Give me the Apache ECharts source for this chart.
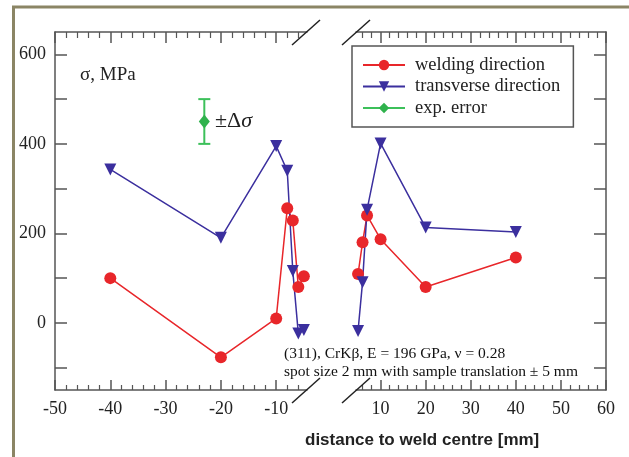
<!DOCTYPE html>
<html><head><meta charset="utf-8">
<script src="https://cdn.jsdelivr.net/npm/echarts@6/dist/echarts.min.js"></script>
<style>html,body{margin:0;padding:0;background:#fff}#c{width:629px;height:457px}</style>
</head><body><div id="c"></div>
<script>
// ---- data ----
const leftX = [-40, -20, -10, -8, -7, -6, -5];
const weldLeft = [100, -77, 10, 256, 229, 80, 104];
const transLeft = [343, 190, 395, 340, 116, -24, -16];
const rightX = [5, 6, 7, 10, 20, 40];
const weldRight = [109, 180, 240, 187, 80, 146];
const transRight = [-18, 91, 253, 401, 213, 203];
const errX = [-23];
const errY = [450];
const errD = [50];
const xLabelsLeft = [-50, -40, -30, -20, -10];
const xLabelsRight = [10, 20, 30, 40, 50, 60];
const yTicks = [-100, 0, 100, 200, 300, 400, 500, 600];
const yLabels = [0, 200, 400, 600];
const seriesNames = ['welding direction', 'transverse direction', 'exp. error'];

const zip = (xs, ys) => xs.map((x, i) => [x, ys[i]]);
const AX = '#555';
const serif = 'Liberation Serif';
const RED = '#e8262a', BLUE = '#3b2f9e', GREEN = '#2fb24c';

function xAxis(grid, pos, min, max, labels, majorLen, minorLen) {
  return {
    type: 'value', gridIndex: grid, position: pos, min: min, max: max, interval: 10,
    axisLine: { show: true, onZero: false, lineStyle: { color: AX, width: 1.5 } },
    axisTick: { show: true, inside: true, length: majorLen, customValues: labels, lineStyle: { color: AX, width: 1.5 } },
    minorTick: { show: true, splitNumber: 5, length: minorLen, lineStyle: { color: AX, width: 1.2 } },
    axisLabel: pos === 'bottom' ? { show: true, customValues: labels, margin: 10, fontFamily: serif, fontSize: 18, color: '#222' } : { show: false },
    splitLine: { show: false }, minorSplitLine: { show: false }
  };
}
function yAxis(grid, pos, showLabels) {
  return {
    type: 'value', gridIndex: grid, position: pos, min: -150, max: 650,
    axisLine: { show: true, onZero: false, lineStyle: { color: AX, width: 1.5 } },
    axisTick: { show: true, inside: true, length: 12, customValues: yTicks, lineStyle: { color: AX, width: 1.5 } },
    axisLabel: showLabels ? { show: true, customValues: yLabels, margin: 9, fontFamily: serif, fontSize: 18, color: '#222' } : { show: false },
    splitLine: { show: false }
  };
}

const chart = echarts.init(document.getElementById('c'), null, { renderer: 'canvas' });
const slash = (cx, cy) => ({ type: 'line', z: 60, shape: { x1: cx - 14, y1: cy + 12.5, x2: cx + 14, y2: cy - 12.5 }, style: { stroke: '#222', lineWidth: 1.5 } });

chart.setOption({
  backgroundColor: '#fff',
  animation: false,
  grid: [
    { left: 55, top: 32, width: 276.5, height: 358 },
    { left: 335.5, top: 32, width: 270.5, height: 358 }
  ],
  xAxis: [
    xAxis(0, 'bottom', -50, 0, xLabelsLeft, 10, 5),
    xAxis(0, 'top', -50, 0, xLabelsLeft, 11, 6),
    xAxis(1, 'bottom', 0, 60, xLabelsRight, 10, 5),
    xAxis(1, 'top', 0, 60, xLabelsRight, 11, 6)
  ],
  yAxis: [ yAxis(0, 'left', true), yAxis(1, 'right', false) ],
  legend: {
    data: seriesNames, orient: 'vertical', left: 352, top: 46,
    itemWidth: 42, itemHeight: 13, itemGap: 1.5,
    padding: [9, 13, 9, 10],
    borderColor: '#555', borderWidth: 1.5, backgroundColor: '#fff',
    textStyle: { fontFamily: serif, fontSize: 18.5, lineHeight: 20, color: '#222', padding: [0, 0, 0, 5] }
  },
  graphic: [
    { type: 'rect', z: 50, shape: { x: 307.5, y: 26, width: 48, height: 15 }, style: { fill: '#fff' } },
    { type: 'rect', z: 50, shape: { x: 307.5, y: 379, width: 48, height: 15 }, style: { fill: '#fff' } },
    slash(306, 32.5), slash(356, 32.5), slash(306, 390.5), slash(356, 390.5),
    { type: 'rect', z: 70, shape: { x: 13.5, y: 7, width: 700, height: 600 }, style: { fill: 'none', stroke: '#8b8565', lineWidth: 3 } },
    { type: 'text', z: 60, left: 80, top: 66, style: { text: 'σ, MPa', font: '19px "Liberation Serif"', fill: '#222' } },
    { type: 'text', z: 60, left: 215, top: 110, style: { text: '±Δ{i|σ}', font: '22px "Liberation Serif"', fill: '#222', rich: { i: { fontStyle: 'italic', fontFamily: serif, fontSize: 22, fill: '#222' } } } },
    { type: 'text', z: 60, left: 284, top: 346, style: { text: '(311), CrKβ, E = 196 GPa, ν = 0.28', font: '15.5px "Liberation Serif"', fill: '#111' } },
    { type: 'text', z: 60, left: 284, top: 364, style: { text: 'spot size 2 mm with sample translation ± 5 mm', font: '15.5px "Liberation Serif"', fill: '#111' } },
    { type: 'text', z: 60, left: 305, top: 432, style: { text: 'distance to weld centre [mm]', font: 'bold 17px "Liberation Sans"', fill: '#222' } }
  ],
  series: [
    { name: seriesNames[0], type: 'line', xAxisIndex: 0, yAxisIndex: 0, data: zip(leftX, weldLeft), symbol: 'circle', symbolSize: 12, color: RED, lineStyle: { width: 1.5, color: RED }, itemStyle: { color: RED } },
    { name: seriesNames[1], type: 'line', xAxisIndex: 0, yAxisIndex: 0, data: zip(leftX, transLeft), symbol: 'triangle', symbolRotate: 180, symbolSize: 12, color: BLUE, lineStyle: { width: 1.5, color: BLUE }, itemStyle: { color: BLUE } },
    { name: seriesNames[0], type: 'line', xAxisIndex: 2, yAxisIndex: 1, data: zip(rightX, weldRight), symbol: 'circle', symbolSize: 12, color: RED, lineStyle: { width: 1.5, color: RED }, itemStyle: { color: RED } },
    { name: seriesNames[1], type: 'line', xAxisIndex: 2, yAxisIndex: 1, data: zip(rightX, transRight), symbol: 'triangle', symbolRotate: 180, symbolSize: 12, color: BLUE, lineStyle: { width: 1.5, color: BLUE }, itemStyle: { color: BLUE } },
    { name: 'errbar', type: 'custom', xAxisIndex: 0, yAxisIndex: 0,
      data: errX.map((x, i) => [x, errY[i] - errD[i], errY[i] + errD[i]]),
      encode: { x: 0, y: [1, 2] },
      renderItem: (params, api) => {
        const x = api.value(0);
        const p1 = api.coord([x, api.value(1)]), p2 = api.coord([x, api.value(2)]);
        const hw = 6, st = { stroke: '#3cc05a', lineWidth: 2 };
        return { type: 'group', children: [
          { type: 'line', shape: { x1: p1[0], y1: p1[1], x2: p2[0], y2: p2[1] }, style: st },
          { type: 'line', shape: { x1: p1[0] - hw, y1: p1[1], x2: p1[0] + hw, y2: p1[1] }, style: st },
          { type: 'line', shape: { x1: p2[0] - hw, y1: p2[1], x2: p2[0] + hw, y2: p2[1] }, style: st }
        ] };
      } },
    { name: seriesNames[2], type: 'line', xAxisIndex: 0, yAxisIndex: 0, data: zip(errX, errY), symbol: 'diamond', symbolSize: [11, 14], color: GREEN, lineStyle: { width: 1.5, color: '#3cc05a' }, itemStyle: { color: GREEN }, z: 3 }
  ]
});
</script></body></html>
